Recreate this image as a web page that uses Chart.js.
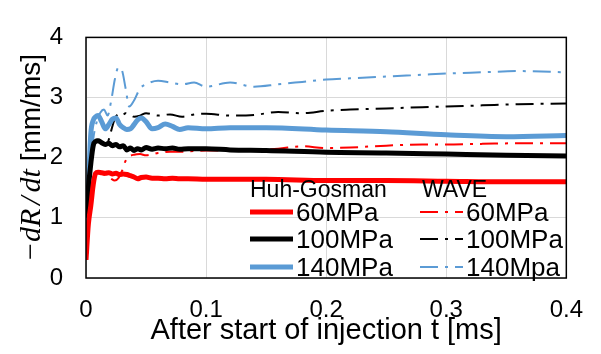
<!DOCTYPE html>
<html>
<head>
<meta charset="utf-8">
<script src="https://cdn.jsdelivr.net/npm/chart.js@4"></script>
<style>
  html, body { margin: 0; padding: 0; background: #fff; }
  #chart { display: block; }
</style>
</head>
<body>
<canvas id="chart" width="601" height="354"></canvas>
<script>
// time after start of injection [ms]
const tHG = [0, 0.002, 0.004, 0.006, 0.008, 0.01, 0.013, 0.016, 0.019, 0.022, 0.025, 0.028, 0.031, 0.034, 0.037, 0.04, 0.043, 0.046, 0.05, 0.055, 0.06, 0.066, 0.072, 0.078, 0.085, 0.1, 0.12, 0.15, 0.2, 0.25, 0.3, 0.35, 0.4];
const tWave = [0, 0.003, 0.006, 0.009, 0.012, 0.015, 0.018, 0.021, 0.024, 0.027, 0.03, 0.033, 0.036, 0.04, 0.045, 0.05, 0.06, 0.07, 0.08, 0.09, 0.1, 0.12, 0.14, 0.16, 0.18, 0.2, 0.22, 0.25, 0.28, 0.3, 0.33, 0.36, 0.4];

// -dR/dt [mm/ms], Huh-Gosman model
const hg60 = [0.3, 0.9, 1.2, 1.55, 1.74, 1.76, 1.75, 1.74, 1.75, 1.73, 1.74, 1.72, 1.73, 1.72, 1.7, 1.68, 1.65, 1.67, 1.68, 1.66, 1.66, 1.65, 1.66, 1.65, 1.65, 1.64, 1.64, 1.64, 1.62, 1.62, 1.61, 1.6, 1.6];
const hg100 = [1.0, 1.5, 1.9, 2.2, 2.27, 2.28, 2.25, 2.22, 2.24, 2.2, 2.22, 2.18, 2.2, 2.13, 2.16, 2.12, 2.15, 2.13, 2.17, 2.14, 2.16, 2.15, 2.16, 2.14, 2.15, 2.15, 2.13, 2.12, 2.09, 2.08, 2.06, 2.04, 2.03];
const hg140 = [0.4, 1.5, 2.4, 2.62, 2.68, 2.7, 2.6, 2.48, 2.55, 2.64, 2.66, 2.55, 2.5, 2.47, 2.48, 2.55, 2.63, 2.66, 2.6, 2.48, 2.5, 2.56, 2.52, 2.47, 2.5, 2.48, 2.5, 2.5, 2.46, 2.43, 2.38, 2.35, 2.37];

// -dR/dt [mm/ms], WAVE model
const wave60 = [0.3, 1.2, 1.65, 1.75, 1.74, 1.72, 1.7, 1.65, 1.62, 1.66, 1.78, 1.95, 2.02, 2.05, 2.06, 2.04, 2.08, 2.1, 2.1, 2.11, 2.12, 2.12, 2.13, 2.15, 2.19, 2.16, 2.17, 2.2, 2.22, 2.22, 2.23, 2.24, 2.24];
const wave100 = [1.0, 1.7, 2.2, 2.3, 2.28, 2.22, 2.25, 2.45, 2.65, 2.72, 2.7, 2.74, 2.72, 2.68, 2.7, 2.74, 2.7, 2.72, 2.68, 2.72, 2.73, 2.7, 2.71, 2.76, 2.74, 2.78, 2.8, 2.82, 2.84, 2.85, 2.87, 2.89, 2.9];
const wave140 = [0.4, 1.6, 2.3, 2.6, 2.75, 2.8, 2.7, 2.95, 3.3, 3.5, 3.45, 3.15, 2.85, 2.95, 3.15, 3.22, 3.28, 3.25, 3.22, 3.25, 3.18, 3.25, 3.18, 3.22, 3.26, 3.3, 3.32, 3.35, 3.38, 3.4, 3.42, 3.44, 3.42];

const pressureLabels = ['60MPa', '100MPa', '140MPa'];
const waveLabels = ['60MPa', '100MPa', '140Mpa'];
const xTicks = [0, 0.1, 0.2, 0.3, 0.4];
const yTicks = [0, 1, 2, 3, 4];

const RED = '#ff0000';
const BLACK = '#000000';
const BLUE = '#5b9bd5';
const DASHDOT = [18, 7, 3, 7];
const SANS = '"Liberation Sans", Arial, sans-serif';

function toPoints(t, v) {
    return t.map((x, i) => ({ x: x, y: v[i] }));
}

function solid(label, t, v, color) {
    return {
        label: label,
        data: toPoints(t, v),
        borderColor: color,
        borderWidth: 5,
        pointRadius: 0,
        cubicInterpolationMode: 'monotone',
        fill: false,
    };
}

function dashed(label, t, v, color) {
    return {
        label: label,
        data: toPoints(t, v),
        borderColor: color,
        borderWidth: 2,
        borderDash: DASHDOT,
        pointRadius: 0,
        cubicInterpolationMode: 'monotone',
        fill: false,
    };
}

// box around the plot area
const frame = {
    id: 'frame',
    afterDatasetsDraw(chart) {
        const a = chart.chartArea;
        const ctx = chart.ctx;
        ctx.save();
        ctx.strokeStyle = '#000';
        ctx.lineWidth = 1.5;
        ctx.strokeRect(a.left, a.top, a.right - a.left, a.bottom - a.top);
        ctx.restore();
    }
};

// two column legend drawn inside the plot
const twoColLegend = {
    id: 'twoColLegend',
    afterDraw(chart) {
        const ctx = chart.ctx;
        const colors = [RED, BLACK, BLUE];
        const rowY = [212, 239, 267];
        ctx.save();
        ctx.fillStyle = '#000';
        ctx.textBaseline = 'alphabetic';
        ctx.font = '23px ' + SANS;
        ctx.fillText('Huh-Gosman', 250, 197);
        ctx.fillText('WAVE', 422, 197);
        ctx.font = '26px ' + SANS;
        for (let i = 0; i < 3; i++) {
            const y = rowY[i];
            // solid sample
            ctx.setLineDash([]);
            ctx.strokeStyle = colors[i];
            ctx.lineWidth = 5;
            ctx.beginPath();
            ctx.moveTo(250, y);
            ctx.lineTo(293, y);
            ctx.stroke();
            // dash-dot sample
            ctx.setLineDash(DASHDOT);
            ctx.lineWidth = 2;
            ctx.beginPath();
            ctx.moveTo(420, y);
            ctx.lineTo(463, y);
            ctx.stroke();
            ctx.fillText(pressureLabels[i], 296, y + 9);
            ctx.fillText(waveLabels[i], 466, y + 9);
        }
        ctx.restore();
    }
};

// rotated y title with italic math part
const yTitle = {
    id: 'yTitle',
    afterDraw(chart) {
        const ctx = chart.ctx;
        const serifIt = 'italic 30px "Liberation Serif", "Times New Roman", serif';
        const serif = '30px "Liberation Serif", "Times New Roman", serif';
        const sans = '28px ' + SANS;
        const parts = [
            { text: '\u2212', font: serif, gap: 1 },
            { text: 'dR', font: serifIt, gap: 4 },
            { text: '/', font: serifIt, gap: 4 },
            { text: 'dt', font: serifIt, gap: 0 },
            { text: ' [mm/ms]', font: sans, gap: 0 },
        ];
        let total = 0;
        parts.forEach(p => {
            ctx.font = p.font;
            p.w = ctx.measureText(p.text).width;
            total += p.w + p.gap;
        });
        ctx.save();
        ctx.translate(40, 157);
        ctx.rotate(-Math.PI / 2);
        ctx.fillStyle = '#000';
        ctx.textBaseline = 'alphabetic';
        let x = -total / 2;
        parts.forEach(p => {
            ctx.font = p.font;
            ctx.fillText(p.text, x, 0);
            x += p.w + p.gap;
        });
        ctx.restore();
    }
};

const ctx = document.getElementById('chart').getContext('2d');
new Chart(ctx, {
    type: 'line',
    data: {
        datasets: [
            solid('Huh-Gosman ' + pressureLabels[0], tHG, hg60, RED),
            solid('Huh-Gosman ' + pressureLabels[1], tHG, hg100, BLACK),
            solid('Huh-Gosman ' + pressureLabels[2], tHG, hg140, BLUE),
            dashed('WAVE ' + waveLabels[0], tWave, wave60, RED),
            dashed('WAVE ' + waveLabels[1], tWave, wave100, BLACK),
            dashed('WAVE ' + waveLabels[2], tWave, wave140, BLUE),
        ],
    },
    options: {
        responsive: false,
        animation: false,
        layout: { padding: { left: 0, top: 19, right: 31, bottom: 0 } },
        plugins: {
            legend: { display: false },
            tooltip: { enabled: false },
        },
        scales: {
            x: {
                type: 'linear',
                min: 0,
                max: 0.4,
                afterBuildTicks: (scale) => { scale.ticks = xTicks.map(v => ({ value: v })); },
                afterFit: (scale) => { scale.height = 76; },
                grid: { color: '#d9d9d9', lineWidth: 1, drawTicks: false },
                border: { display: false },
                ticks: {
                    color: '#000',
                    padding: 18,
                    maxRotation: 0,
                    font: { family: SANS, size: 24 },
                    callback: (v) => String(v),
                },
                title: {
                    display: true,
                    text: 'After start of injection t [ms]',
                    color: '#000',
                    padding: { top: 0, bottom: 6 },
                    font: { family: SANS, size: 29 },
                },
            },
            y: {
                min: 0,
                max: 4,
                afterBuildTicks: (scale) => { scale.ticks = yTicks.map(v => ({ value: v })); },
                afterFit: (scale) => { scale.width = 86; },
                grid: { color: '#d9d9d9', lineWidth: 1, drawTicks: false },
                border: { display: false },
                ticks: {
                    color: '#000',
                    padding: 23,
                    font: { family: SANS, size: 24 },
                },
            },
        },
    },
    plugins: [frame, twoColLegend, yTitle],
});
</script>
</body>
</html>
